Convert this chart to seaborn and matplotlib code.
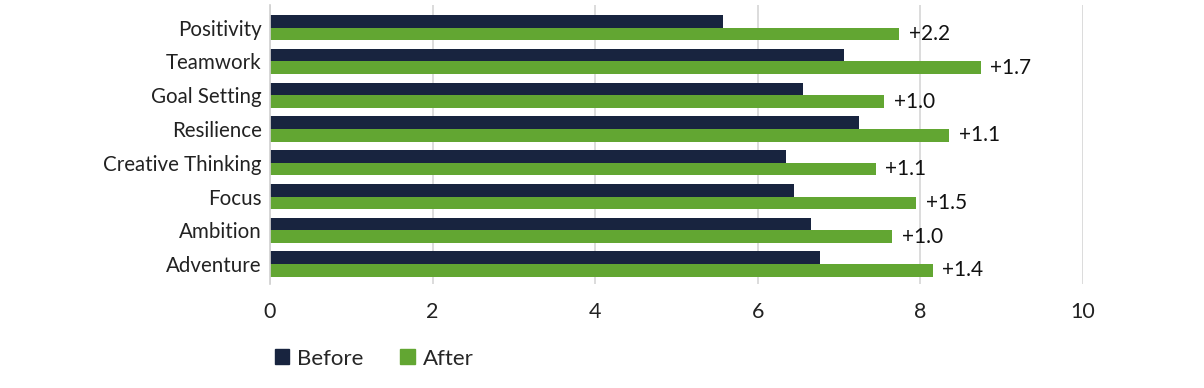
import pandas as pd
import numpy as np
import matplotlib
matplotlib.use('Agg')
import matplotlib.pyplot as plt
from matplotlib.patches import Patch
import seaborn as sns

skills = ['Positivity', 'Teamwork', 'Goal Setting', 'Resilience',
          'Creative Thinking', 'Focus', 'Ambition', 'Adventure']
before = [5.57, 7.06, 6.55, 7.25, 6.35, 6.45, 6.66, 6.76]
after = [7.74, 8.74, 7.55, 8.35, 7.45, 7.95, 7.65, 8.15]
gain_labels = ['+2.2', '+1.7', '+1.0', '+1.1', '+1.1', '+1.5', '+1.0', '+1.4']

NAVY = '#18243F'
GREEN = '#62A632'

sns.set_theme(style='white')
plt.rcParams['font.family'] = ['Lato', 'DejaVu Sans']

df = pd.DataFrame({
    'skill': skills * 2,
    'score': before + after,
    'when': ['Before'] * len(skills) + ['After'] * len(skills),
})

fig = plt.figure(figsize=(12.04, 3.88), dpi=100)
ax = fig.add_axes([0.2243, 0.268, 0.6752, 0.719])

sns.barplot(data=df, y='skill', x='score', hue='when', order=skills,
            hue_order=['Before', 'After'], palette=[NAVY, GREEN],
            width=0.75, saturation=1, linewidth=0, legend=False, ax=ax)

ax.bar_label(ax.containers[1], labels=gain_labels, padding=7,
             fontsize=15, color='#111111')

ax.set_xlim(0, 10)
ax.set_ylim(7.59, -0.67)
ax.set_xticks(np.arange(0, 11, 2))
ax.xaxis.grid(True, color='#D2D2D2', linewidth=1.1)
ax.set_axisbelow(True)
for s in ['top', 'right', 'bottom']:
    ax.spines[s].set_visible(False)
ax.spines['left'].set_color('#D2D2D2')
ax.set_xlabel('')
ax.set_ylabel('')
ax.tick_params(axis='x', labelsize=15.5, colors='#222222', pad=13, length=0)
ax.tick_params(axis='y', labelsize=14.8, colors='#222222', pad=6, length=0)

handles = [Patch(color=NAVY, label='Before'), Patch(color=GREEN, label='After')]
fig.legend(handles=handles, loc='center left', bbox_to_anchor=(0.2284, 0.076),
           ncol=2, frameon=False, fontsize=16, handlelength=0.65,
           handleheight=0.65, handletextpad=0.35, columnspacing=1.65,
           borderpad=0, borderaxespad=0)

fig.savefig('out.png', dpi=100)
